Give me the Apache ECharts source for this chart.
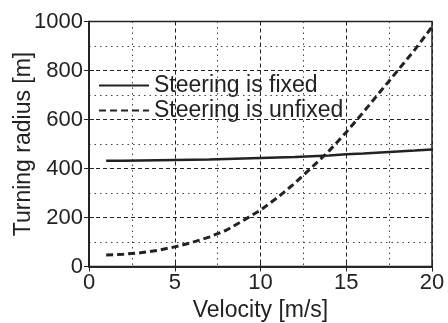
<!DOCTYPE html>
<html>
<head>
<meta charset="utf-8">
<script src="https://cdn.jsdelivr.net/npm/echarts@6/dist/echarts.min.js"></script>
<style>
html,body{margin:0;padding:0;background:#fff;}
#c{width:448px;height:323px;}
</style>
</head>
<body>
<div id="c"></div>
<script>
const velocity = [1,2,3,4,5,6,7,8,9,10,11,12,13,14,15,16,17,18,19,20];
const radiusFixed = [432,432,433,434,435,436,437,439,441,443,445,447,450,453,458,461,465,469,473,478];
const radiusUnfixed = [47,50,56,66,80,98,120,148,188,230,282,340,405,472,548,630,715,800,885,978];
const xTicks = [0,5,10,15,20];
const yTicks = [0,200,400,600,800,1000];
const seriesNames = ['Steering is fixed','Steering is unfixed'];
const axisNames = ['Velocity [m/s]','Turning radius [m]'];

const FONT = "'Liberation Sans', Arial, sans-serif";
const pairs = (xs, ys) => xs.map((x,i)=>[x, ys[i]]);

const chart = echarts.init(document.getElementById('c'), null, {renderer:'canvas'});
const majorSplit = {show:true, lineStyle:{color:'#222', width:1, type:[4,3]}};
const minorSplit = {show:true, lineStyle:{color:'#444', width:1, type:[1.5,4]}};
chart.setOption({
  animation:false,
  backgroundColor:'#fff',
  textStyle:{fontFamily:FONT},
  grid:{left:89, right:16, top:21.5, bottom:56.5, containLabel:false, outerBoundsMode:'none',
        show:true, borderColor:'#222', borderWidth:1.5, backgroundColor:'transparent'},
  legend:{
    orient:'vertical', left:93, top:69, itemWidth:50, itemHeight:14, itemGap:2, itemTextGap:7,
    itemStyle:{opacity:0, color:'rgba(0,0,0,0)', borderWidth:0},
    textStyle:{fontSize:23, color:'#222', fontFamily:FONT},
    data:seriesNames
  },
  xAxis:[{
    type:'value', min:xTicks[0], max:xTicks[xTicks.length-1], interval:5,
    name:axisNames[0], nameLocation:'middle', nameGap:33, nameMoveOverlap:false,
    nameTextStyle:{fontSize:23, color:'#222', fontFamily:FONT},
    axisLine:{show:true, onZero:false, lineStyle:{color:'#222', width:1.5}},
    axisTick:{show:true, inside:true, length:5, lineStyle:{color:'#222'}},
    minorTick:{show:false, splitNumber:2},
    axisLabel:{fontSize:22, color:'#222', margin:5, fontFamily:FONT, formatter:v=>String(v)},
    splitLine:majorSplit,
    minorSplitLine:minorSplit
  },{
    type:'value', position:'top', min:0, max:20, interval:5,
    axisLine:{show:true, lineStyle:{color:'#222', width:1.5}},
    axisTick:{show:true, inside:true, length:5, lineStyle:{color:'#222'}},
    axisLabel:{show:false}, splitLine:{show:false}
  }],
  yAxis:[{
    type:'value', min:yTicks[0], max:yTicks[yTicks.length-1], interval:200,
    name:axisNames[1], nameLocation:'middle', nameGap:54, nameMoveOverlap:false,
    nameTextStyle:{fontSize:23, color:'#222', fontFamily:FONT},
    axisLine:{show:true, onZero:false, lineStyle:{color:'#222', width:1.5}},
    axisTick:{show:true, inside:true, length:5, lineStyle:{color:'#222'}},
    minorTick:{show:false, splitNumber:2},
    axisLabel:{fontSize:22, color:'#222', margin:6, fontFamily:FONT, formatter:v=>String(v)},
    splitLine:majorSplit,
    minorSplitLine:minorSplit
  },{
    type:'value', position:'right', min:0, max:1000, interval:200,
    axisLine:{show:true, lineStyle:{color:'#222', width:1.5}},
    axisTick:{show:true, inside:true, length:5, lineStyle:{color:'#222'}},
    axisLabel:{show:false}, splitLine:{show:false}
  }],
  series:[{
    name:seriesNames[0], type:'line', symbol:'none', smooth:false,
    data:pairs(velocity, radiusFixed),
    lineStyle:{color:'#222', width:2.5, type:'solid'},
    itemStyle:{color:'#222'}
  },{
    name:seriesNames[1], type:'line', symbol:'none', smooth:false,
    data:pairs(velocity, radiusUnfixed),
    lineStyle:{color:'#222', width:3, type:[7,4]},
    itemStyle:{color:'#222'}
  }]
});
</script>
</body>
</html>
